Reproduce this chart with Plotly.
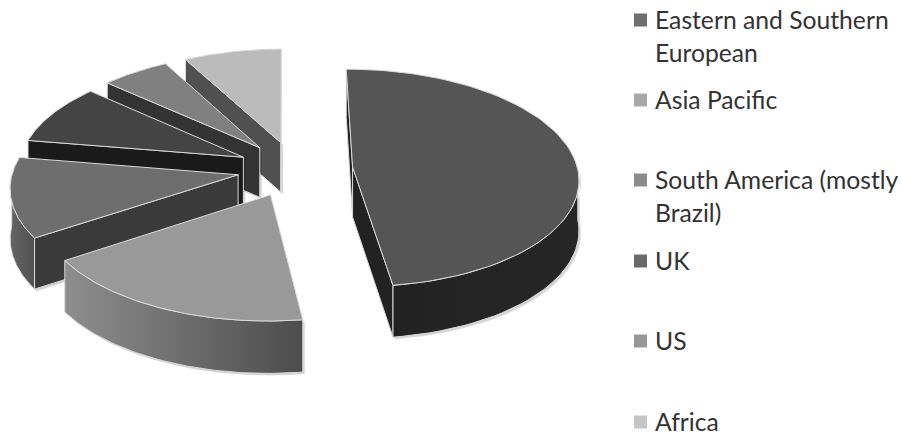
import numpy as np
import plotly.graph_objects as go

# Regional shares, clockwise from just before twelve o'clock
regions = ["Eastern and Southern European", "Asia Pacific", "South America (mostly Brazil)", "UK", "US", "Africa"]
shares = [47.9, 17.96, 11.8, 9.0, 5.5, 7.84]

# Slice faces
top_colors = ["#555555", "#999999", "#6e6e6e", "#444444", "#808080", "#bbbbbb"]
cut_colors = ["#222222", "#8c8c8c", "#3a3a3a", "#1a1a1a", "#333333", "#505050"]
rim_left = ["#222222", "#8e8e8e", "#656565", "#1a1a1a", "#333333", "#505050"]
rim_right = ["#262626", "#4c4c4c", "#505050", "#1a1a1a", "#333333", "#505050"]

# Legend
legend_lines = [["Eastern and Southern", "European"], ["Asia Pacific"], ["South America (mostly", "Brazil)"], ["UK"], ["US"], ["Africa"]]
legend_colors = ["#6f6f70", "#a9a9ab", "#8c8c8e", "#6a6a6a", "#98989a", "#c5c5c7"]
legend_y = [20, 100, 180, 261, 341, 422]

# Tilted-disc projection in screen pixels
CX, CY, RX, RY, PERSP, PULL, DEPTH = 295, 169, 225, 108, 0.10, 0.257, 50
START_DEG = -0.3
EDGE = "#d9d9d9"
SHADOW = "rgba(0,0,0,0.16)"


def project(wx, wy):
    s = 1 / (1 + PERSP * wy)
    return CX + RX * wx * s, CY - RY * wy * s, s


def drop(s):
    return DEPTH * s ** 0.35


def polygon(xs, ys, color, gradient=None, edge=EDGE, width=1.0):
    xs, ys = list(xs), list(ys)
    trace = dict(x=xs + [xs[0]], y=ys + [ys[0]], mode="lines", fill="toself",
                 line=dict(color=edge, width=width), showlegend=False, hoverinfo="skip")
    if gradient:
        trace["fillgradient"] = dict(type="horizontal", colorscale=[[0, gradient[0]], [1, gradient[1]]])
    else:
        trace["fillcolor"] = color
    return go.Scatter(**trace)


def wall_shadow(xs, ys):
    return go.Scatter(x=[v + 2 for v in xs] + [xs[0] + 2], y=[v + 2 for v in ys] + [ys[0] + 2], mode="none",
                      fill="toself", fillcolor=SHADOW, showlegend=False, hoverinfo="skip")


fig = go.Figure()
total = sum(shares)
edges = np.cumsum([0] + shares) / total * 2 * np.pi + np.radians(START_DEG)

# Far slices first so nearer ones overlap them
for i in [5, 4, 3, 2, 0, 1]:
    a0, a1 = edges[i], edges[i + 1]
    mid = (a0 + a1) / 2
    ox, oy = PULL * np.sin(mid), PULL * np.cos(mid)
    t = np.linspace(a0, a1, 80)
    rim_x, rim_y, rim_s = project(ox + np.sin(t), oy + np.cos(t))
    apex_x, apex_y, apex_s = project(ox, oy)

    low_rim = rim_y + drop(rim_s)
    low_apex = apex_y + drop(apex_s)

    faces = []
    # A cut face shows only when it turns toward the viewer
    if rim_x[0] < apex_x:
        faces.append(([apex_x, rim_x[0], rim_x[0], apex_x], [apex_y, rim_y[0], low_rim[0], low_apex], cut_colors[i], None))
    if rim_x[-1] > apex_x:
        faces.append(([apex_x, rim_x[-1], rim_x[-1], apex_x], [apex_y, rim_y[-1], low_rim[-1], low_apex], cut_colors[i], None))
    # The curved wall shows only on the near half of the disc
    near = np.cos(t) <= 0
    if near.sum() > 1:
        wx, wy, wl = rim_x[near], rim_y[near], low_rim[near]
        faces.append((list(wx) + list(wx[::-1]), list(wy) + list(wl[::-1]), None, (rim_left[i], rim_right[i])))

    for xs, ys, _, _ in faces:
        fig.add_trace(wall_shadow(xs, ys))
    for xs, ys, color, grad in faces:
        fig.add_trace(polygon(xs, ys, color, gradient=grad))
    # Top face
    fig.add_trace(polygon([apex_x] + list(rim_x), [apex_y] + list(rim_y), top_colors[i]))

for lines, color, y in zip(legend_lines, legend_colors, legend_y):
    fig.add_shape(type="rect", x0=634, x1=647, y0=y - 6.5, y1=y + 6.5, fillcolor=color, line_width=0)
    for n, text in enumerate(lines):
        fig.add_annotation(x=653, y=y - 1 + 33 * n, text=text, showarrow=False, xanchor="left", yanchor="middle",
                           font=dict(family="Lato", size=24.7, color="#333333"))

fig.update_xaxes(visible=False, range=[0, 902], fixedrange=True)
fig.update_yaxes(visible=False, range=[435, 0], fixedrange=True)
fig.update_layout(width=902, height=435, margin=dict(l=0, r=0, t=0, b=0), paper_bgcolor="white",
                  plot_bgcolor="white", showlegend=False)
fig.write_html("out.html")
